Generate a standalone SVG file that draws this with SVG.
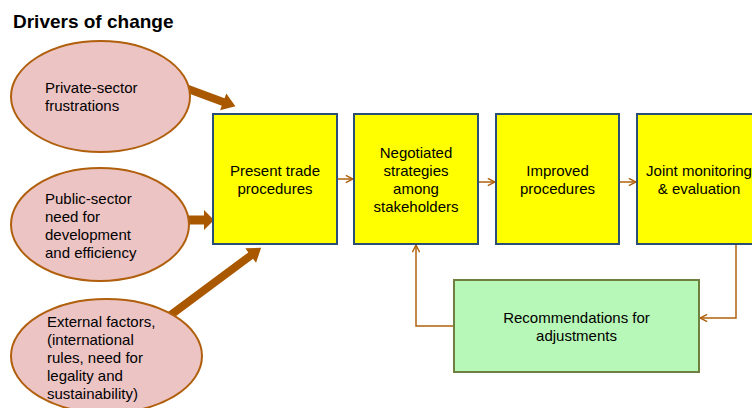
<svg xmlns="http://www.w3.org/2000/svg" width="752" height="408" viewBox="0 0 752 408">
<defs>
<style>
.t{font-family:"Liberation Sans",Arial,sans-serif;font-size:15px;fill:#000}
.title{font-family:"Liberation Sans",Arial,sans-serif;font-size:19px;font-weight:bold;fill:#000}
.ell{fill:#EDC4C4;stroke:#B05F0C;stroke-width:2}
.box{fill:#FFFF00;stroke:#2A4E78;stroke-width:2}
.gbox{fill:#B7F7B7;stroke:#6E7F3F;stroke-width:2}
.fat{fill:#AA5800}
.con{fill:none;stroke:#B0600C;stroke-width:1.5}
</style>
<marker id="chev" viewBox="0 0 10 10" refX="9" refY="5" markerWidth="9" markerHeight="9" orient="auto" markerUnits="userSpaceOnUse">
<path d="M1,1 L9,5 L1,9" fill="none" stroke="#B0600C" stroke-width="1.6"/>
</marker>
</defs>
<rect width="752" height="408" fill="#fff"/>
<text class="title" x="13" y="28">Drivers of change</text>

<g id="connectors">
<polygon class="fat" transform="translate(180,86) rotate(20.2)" points="0,-4 46,-4 46,-9 59,0 46,9 46,4 0,4"/>
<polygon class="fat" transform="translate(182,220)" points="0,-4.5 22,-4.5 22,-10 32,0 22,10 22,4.5 0,4.5"/>
<polygon class="fat" transform="translate(168,317) rotate(-36.6)" points="0,-4 103,-4 103,-9 116,0 103,9 103,4 0,4"/>
<line class="con" x1="338" y1="179" x2="353" y2="179" marker-end="url(#chev)"/>
<line class="con" x1="479" y1="182" x2="495" y2="182" marker-end="url(#chev)"/>
<line class="con" x1="620" y1="182" x2="636" y2="182" marker-end="url(#chev)"/>
<path class="con" d="M736,245 V318 H700" marker-end="url(#chev)"/>
<path class="con" d="M453,326 H416 V245" marker-end="url(#chev)"/>
</g>

<g id="driver1">
<ellipse class="ell" cx="100.5" cy="96.5" rx="89.5" ry="55.5"/>
<text class="t" x="45" y="93">Private-sector</text>
<text class="t" x="45" y="111">frustrations</text>
</g>
<g id="driver2">
<ellipse class="ell" cx="100" cy="224.5" rx="89" ry="56.5"/>
<text class="t" x="45" y="204">Public-sector</text>
<text class="t" x="45" y="222">need for</text>
<text class="t" x="45" y="240">development</text>
<text class="t" x="45" y="258">and efficiency</text>
</g>
<g id="driver3">
<ellipse class="ell" cx="106.5" cy="356" rx="95.5" ry="57"/>
<text class="t" x="47" y="327">External factors,</text>
<text class="t" x="47" y="345">(international</text>
<text class="t" x="47" y="363">rules, need for</text>
<text class="t" x="47" y="381">legality and</text>
<text class="t" x="47" y="399">sustainability)</text>
</g>

<g id="present">
<rect class="box" x="213" y="114" width="124" height="130"/>
<text class="t" x="275" y="176" text-anchor="middle">Present trade</text>
<text class="t" x="275" y="194" text-anchor="middle">procedures</text>
</g>
<g id="negotiated">
<rect class="box" x="354" y="114" width="124" height="130"/>
<text class="t" x="416" y="158" text-anchor="middle">Negotiated</text>
<text class="t" x="416" y="176" text-anchor="middle">strategies</text>
<text class="t" x="416" y="194" text-anchor="middle">among</text>
<text class="t" x="416" y="212" text-anchor="middle">stakeholders</text>
</g>
<g id="improved">
<rect class="box" x="496" y="114" width="123" height="130"/>
<text class="t" x="557.5" y="176" text-anchor="middle">Improved</text>
<text class="t" x="557.5" y="194" text-anchor="middle">procedures</text>
</g>
<g id="monitoring">
<rect class="box" x="637" y="114" width="124" height="130"/>
<text class="t" x="699" y="176" text-anchor="middle">Joint monitoring</text>
<text class="t" x="699" y="194" text-anchor="middle">&amp; evaluation</text>
</g>
<g id="recommendations">
<rect class="gbox" x="454" y="280" width="245" height="92"/>
<text class="t" x="576.5" y="323" text-anchor="middle">Recommendations for</text>
<text class="t" x="576.5" y="341" text-anchor="middle">adjustments</text>
</g>
</svg>
